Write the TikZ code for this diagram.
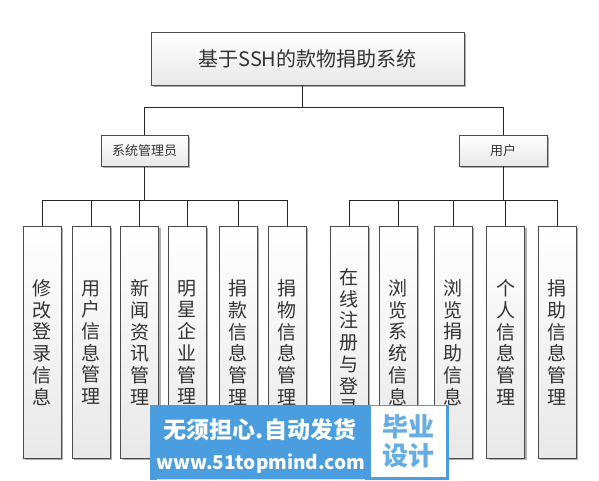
\documentclass[tikz,border=0pt]{standalone}
\usepackage{fontspec}
\newfontfamily\cjk{Noto Sans CJK SC}
\usetikzlibrary{shadows,calc}
\definecolor{wmblue}{HTML}{4A9EDF}
\tikzset{
  boxbase/.style={draw=black!70, line width=0.8pt, top color=white, bottom color=black!9,
    drop shadow={shadow xshift=2pt, shadow yshift=-2pt, fill=black!45, opacity=0.7},
    text=black!80, inner sep=0pt},
  topbox/.style={boxbase, minimum width=313pt, minimum height=53pt, font=\cjk\fontsize{20}{24}\selectfont},
  rolebox/.style={boxbase, minimum height=31pt, font=\cjk\fontsize{13}{16}\selectfont},
  leafbox/.style={boxbase, anchor=north, minimum width=38pt, minimum height=232pt, align=center,
    font=\cjk\fontsize{19}{21.7}\selectfont},
  conn/.style={draw=black!85, line width=1pt},
  wmtext/.style={text=white, font=\cjk\bfseries, inner sep=0pt},
}
\begin{document}
\begin{tikzpicture}[x=1pt,y=-1pt]
\useasboundingbox[fill=white] (0,0) rectangle (599,481);

\node[topbox] (top) at (307.5,58.5) {基于SSH的款物捐助系统};
\node[rolebox, minimum width=87pt] (admin) at (144.5,151) {系统管理员};
\node[rolebox, minimum width=88pt] (user) at (503,150.5) {用户};

\node[leafbox] (a1) at (42,226) {修\\改\\登\\录\\信\\息};
\node[leafbox] (a2) at (91,226) {用\\户\\信\\息\\管\\理};
\node[leafbox] (a3) at (139.5,226) {新\\闻\\资\\讯\\管\\理};
\node[leafbox] (a4) at (187,226) {明\\星\\企\\业\\管\\理};
\node[leafbox] (a5) at (238,226) {捐\\款\\信\\息\\管\\理};
\node[leafbox] (a6) at (287,226) {捐\\物\\信\\息\\管\\理};

\node[leafbox] (u1) at (349,226) {在\\线\\注\\册\\与\\登\\录};
\node[leafbox] (u2) at (398,226) {浏\\览\\系\\统\\信\\息};
\node[leafbox] (u3) at (453,226) {浏\\览\\捐\\助\\信\\息};
\node[leafbox] (u4) at (505.5,226) {个\\人\\信\\息\\管\\理};
\node[leafbox] (u5) at (557,226) {捐\\助\\信\\息\\管\\理};

\coordinate (tj) at (302,108);
\draw[conn] (tj |- top.south) -- (tj);
\draw[conn] (tj) -| (admin.north);
\draw[conn] (tj) -| (user.north);

\coordinate (aj) at (144.5,200);
\draw[conn] (admin.south) -- (aj);
\foreach \c in {a1,a2,a3,a4,a5,a6} \draw[conn] (aj) -| (\c.north);

\coordinate (uj) at (503,200);
\draw[conn] (user.south) -- (uj);
\foreach \c in {u1,u2,u3,u4,u5} \draw[conn] (uj) -| (\c.north);

% watermark
\fill[wmblue] (150,405) rectangle (449,480);
\node[fill=white, minimum width=75pt, minimum height=71pt, inner sep=0pt] (wmbox) at (408.5,441.5) {};
\node[text=wmblue!85, font=\cjk\bfseries\fontsize{26}{29}\selectfont, align=center, inner sep=0pt] (wmby) at (wmbox.center) {毕业\\设计};
\node[wmtext, font=\cjk\bfseries\fontsize{23}{26}\selectfont] (wm1) at (260,430) {无须担心.自动发货};
\node[wmtext, font=\cjk\bfseries\fontsize{19}{22}\selectfont] (wm2) at (261,464) {www.51topmind.com};
\coordinate (ul1) at ($(wm2.south west)+(0,5)$);
\coordinate (ul2) at ($(wm2.south east)+(0,5)$);
\draw[white!70!wmblue, line width=0.8pt] (ul1) -- (ul2);
\end{tikzpicture}
\end{document}
